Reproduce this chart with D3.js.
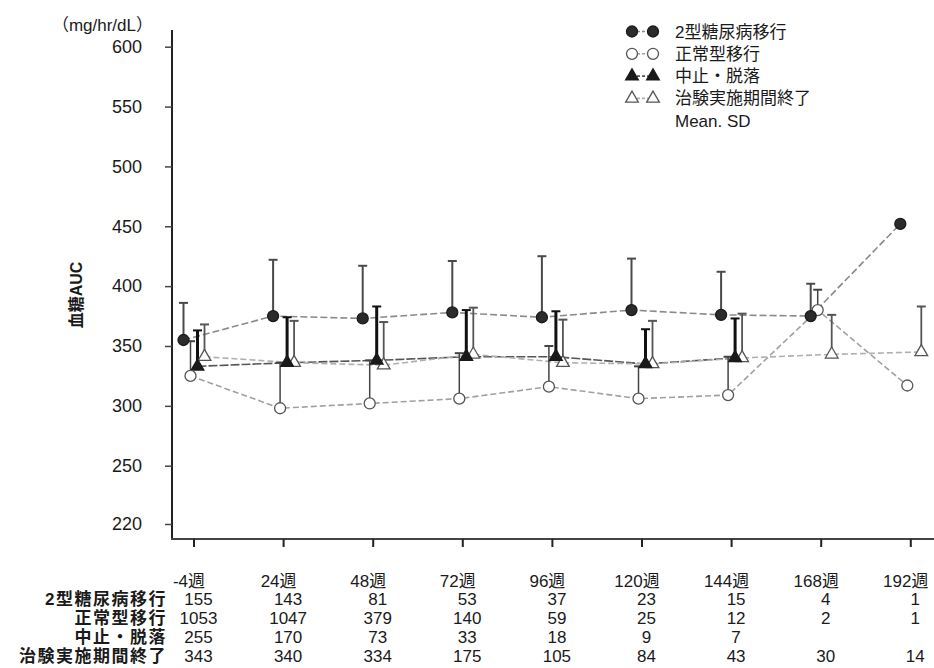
<html>
<head>
<meta charset="utf-8">
<script src="https://d3js.org/d3.v7.min.js"></script>
<style>
  body { margin: 0; background: #fff; }
  text { font-family: "Liberation Sans", "Noto Sans CJK JP", sans-serif; fill: #1a1a1a; }
</style>
</head>
<body>
<div id="chart"></div>
<script>
// data
const weeks = ["-4週", "24週", "48週", "72週", "96週", "120週", "144週", "168週", "192週"];

const t2dmMean = [355, 375, 373, 378, 374, 380, 376, 375, 452];
const t2dmSD = [31, 47, 44, 43, 51, 43, 36, 27, null];

const normalMean = [325, 298, 302, 306, 316, 306, 309, 380, 317];
const normalSD = [29, 38, 36, 38, 34, 27, 32, 17, null];

const dropoutMean = [333, 336, 338, 341, 341, 335, 340, null, null];
const dropoutSD = [30, 38, 45, 39, 38, 29, 33, null, null];

const completedMean = [341, 336, 334, 343, 336, 335, 340, 343, 345];
const completedSD = [27, 35, 36, 39, 36, 36, 37, 33, 38];

const seriesNames = ["2型糖尿病移行", "正常型移行", "中止・脱落", "治験実施期間終了"];

const countT2dm = [155, 143, 81, 53, 37, 23, 15, 4, 1];
const countNormal = [1053, 1047, 379, 140, 59, 25, 12, 2, 1];
const countDropout = [255, 170, 73, 33, 18, 9, 7, null, null];
const countCompleted = [343, 340, 334, 175, 105, 84, 43, 30, 14];

const yTicks = [220, 250, 300, 350, 400, 450, 500, 550, 600];

const w = 934, h = 668;

const svg = d3.select("#chart").append("svg")
    .attr("width", w)
    .attr("height", h);

const x = d3.scalePoint().domain(weeks).range([193.5, 910.3]);
// axis is broken below 250, so the scale is piecewise
const y = d3.scaleLinear().domain([220, 250, 600]).range([524, 465.7, 46.7]);

const series = [
    { name: seriesNames[0], mean: t2dmMean, sd: t2dmSD, dx: -10, shape: d3.symbolCircle, size: 95, fill: "#2b2b2b", stroke: "#1a1a1a",
      line: "#8a8a8a", dash: "7,3", bar: "#4a4a4a", barW: 2 },
    { name: seriesNames[1], mean: normalMean, sd: normalSD, dx: -3, shape: d3.symbolCircle, size: 95, fill: "#fff", stroke: "#555",
      line: "#a0a0a0", dash: "6,3", bar: "#444", barW: 1.5 },
    { name: seriesNames[2], mean: dropoutMean, sd: dropoutSD, dx: 4, shape: d3.symbolTriangle, size: 70, fill: "#1a1a1a", stroke: "#1a1a1a",
      line: "#555", dash: "9,2", bar: "#111", barW: 3 },
    { name: seriesNames[3], mean: completedMean, sd: completedSD, dx: 11, shape: d3.symbolTriangle, size: 70, fill: "#fff", stroke: "#555",
      line: "#b0b0b0", dash: "6,3", bar: "#555", barW: 1.8 }
];

series.forEach(s => {
    s.points = weeks.map((wk, i) => ({ w: wk, v: s.mean[i], sd: s.sd[i] })).filter(d => d.v != null);
});

// axes
svg.append("line") // y axis line
    .attr("x1", 172).attr("x2", 172)
    .attr("y1", 30).attr("y2", 540)
    .attr("stroke", "#222").attr("stroke-width", 2);

svg.append("line") // x axis line
    .attr("x1", 171).attr("x2", 934)
    .attr("y1", 539).attr("y2", 539)
    .attr("stroke", "#444").attr("stroke-width", 2);

const yAxis = svg.append("g")
    .attr("transform", "translate(172,0)")
    .call(d3.axisLeft(y).tickValues(yTicks).tickSize(7).tickPadding(23));
yAxis.select(".domain").remove();
yAxis.selectAll("line").attr("stroke", "#444").attr("stroke-width", 1.5);
yAxis.selectAll("text").style("font-size", "18px").attr("fill", "#1a1a1a");

const xAxis = svg.append("g")
    .attr("transform", "translate(0,539)")
    .call(d3.axisBottom(x).tickSize(8).tickPadding(28));
xAxis.select(".domain").remove();
xAxis.selectAll("line").attr("stroke", "#222").attr("stroke-width", 2);
xAxis.selectAll("text").style("font-size", "17px").attr("dx", -5).attr("fill", "#1a1a1a");

// axis labels
svg.append("text")
    .attr("x", 153).attr("y", 31)
    .attr("text-anchor", "end")
    .style("font-size", "17px")
    .text("（mg/hr/dL）");

svg.append("text")
    .attr("transform", "translate(82,295) rotate(-90)")
    .attr("text-anchor", "middle")
    .style("font-size", "16px")
    .style("font-weight", "bold")
    .text("血糖AUC");

// connecting lines
const line = d3.line().x(d => x(d.w)).y(d => y(d.v));
series.forEach(s => {
    svg.append("path")
        .datum(s.points)
        .attr("transform", "translate(" + s.dx + ",0)")
        .attr("d", line)
        .attr("fill", "none")
        .attr("stroke", s.line)
        .attr("stroke-width", 1.6)
        .attr("stroke-dasharray", s.dash);
});

// error bars (mean + SD only)
series.forEach(s => {
    const g = svg.append("g").attr("transform", "translate(" + s.dx + ",0)");
    const bars = s.points.filter(d => d.sd != null);
    g.selectAll(".bar").data(bars).enter().append("line")
        .attr("x1", d => x(d.w)).attr("x2", d => x(d.w))
        .attr("y1", d => y(d.v)).attr("y2", d => y(d.v + d.sd))
        .attr("stroke", s.bar).attr("stroke-width", s.barW);
    g.selectAll(".cap").data(bars).enter().append("line")
        .attr("x1", d => x(d.w) - 4.5).attr("x2", d => x(d.w) + 4.5)
        .attr("y1", d => y(d.v + d.sd)).attr("y2", d => y(d.v + d.sd))
        .attr("stroke", s.bar).attr("stroke-width", 2);
});

// markers
series.slice().reverse().forEach(s => {
    svg.append("g")
        .selectAll("path")
        .data(s.points)
        .enter()
        .append("path")
        .attr("transform", d => "translate(" + (x(d.w) + s.dx) + "," + y(d.v) + ")")
        .attr("d", d3.symbol().type(s.shape).size(s.size))
        .attr("fill", s.fill)
        .attr("stroke", s.stroke)
        .attr("stroke-width", 1.3);
});

// legend
const legend = svg.append("g");
series.forEach((s, i) => {
    const ly = 31.5 + i * 22.3;
    legend.append("line")
        .attr("x1", 632).attr("x2", 653)
        .attr("y1", ly).attr("y2", ly)
        .attr("stroke", s.line).attr("stroke-width", 1.6).attr("stroke-dasharray", "3,2");
    [632, 653].forEach(lx => {
        legend.append("path")
            .attr("transform", "translate(" + lx + "," + ly + ")")
            .attr("d", d3.symbol().type(s.shape).size(s.size))
            .attr("fill", s.fill)
            .attr("stroke", s.stroke)
            .attr("stroke-width", 1.3);
    });
    legend.append("text")
        .attr("x", 675).attr("y", ly + 6)
        .style("font-size", "17px")
        .text(s.name);
});
legend.append("text")
    .attr("x", 675).attr("y", 31.5 + 4 * 22.3 + 6)
    .style("font-size", "17px")
    .text("Mean. SD");

// counts table under the axis
const counts = [countT2dm, countNormal, countDropout, countCompleted];
counts.forEach((row, r) => {
    const ry = 605 + r * 19;
    svg.append("text")
        .attr("x", 167).attr("y", ry)
        .attr("text-anchor", "end")
        .style("font-size", "17px")
        .style("font-weight", "bold")
        .style("letter-spacing", "1.5px")
        .text(seriesNames[r]);
    svg.append("g")
        .selectAll("text")
        .data(weeks.map((wk, i) => ({ w: wk, n: row[i] })).filter(d => d.n != null))
        .enter()
        .append("text")
        .attr("x", d => x(d.w) + 5)
        .attr("y", ry)
        .attr("text-anchor", "middle")
        .style("font-size", "17px")
        .text(d => d.n);
});
</script>
</body>
</html>
